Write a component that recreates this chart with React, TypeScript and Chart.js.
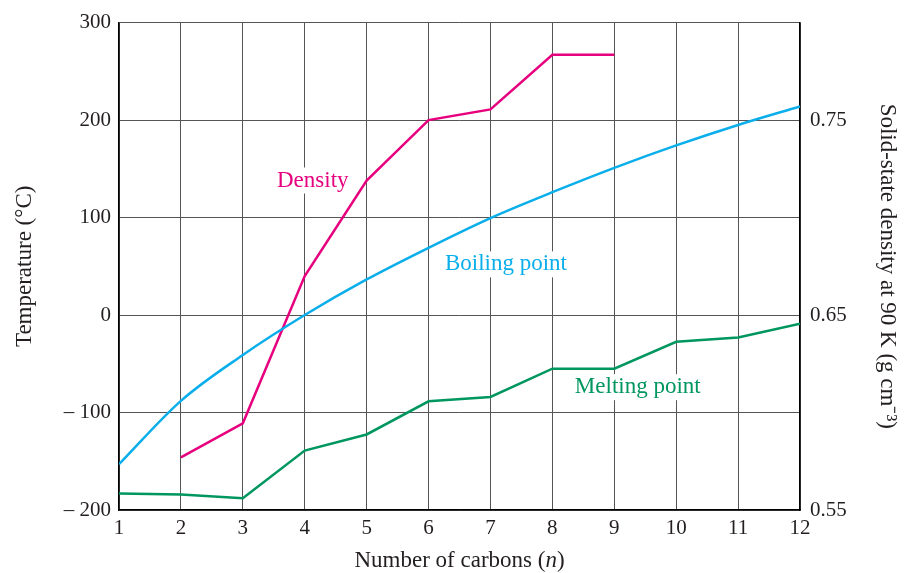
import React, { useEffect, useRef } from "react";
import { Chart, registerables } from "chart.js";

Chart.register(...registerables);

const CARBONS = [1, 2, 3, 4, 5, 6, 7, 8, 9, 10, 11, 12];
const BOILING = [-153, -88, -41, 0, 36.5, 69, 99.5, 126, 151, 174, 195, 214];
const MELTING = [-183, -184, -188, -139, -122.5, -88.5, -84, -55, -55, -27.5, -23, -9];
const DENSITY_N = [2, 3, 4, 5, 6, 7, 8, 9];
const DENSITY = [0.577, 0.5945, 0.67, 0.719, 0.75, 0.7555, 0.7835, 0.7835];
const TEMP_TICKS = [-200, -100, 0, 100, 200, 300];
const DENSITY_TICKS = [0.55, 0.65, 0.75];

const PINK = "#E6007E";
const BLUE = "#0AAEEA";
const GREEN = "#00965F";
const FONT = '"Liberation Serif", "Times New Roman", serif';
const TEXT = "#231F20";

const SERIES_LABELS = [
  { text: "Density", x: 4.13, y: 138, color: PINK },
  { text: "Boiling point", x: 7.25, y: 52, color: BLUE },
  { text: "Melting point", x: 9.38, y: -74, color: GREEN },
];

const labelPlugin = {
  id: "seriesLabels",
  afterDraw(chart: any) {
    const ctx = chart.ctx;
    const xs = chart.scales.x;
    const ys = chart.scales.y;
    ctx.save();
    ctx.font = `23px ${FONT}`;
    ctx.textAlign = "center";
    ctx.textBaseline = "middle";
    for (const l of SERIES_LABELS) {
      const px = xs.getPixelForValue(l.x);
      const py = ys.getPixelForValue(l.y);
      const w = ctx.measureText(l.text).width;
      ctx.fillStyle = "#ffffff";
      ctx.fillRect(px - w / 2 - 3, py - 13, w + 6, 26);
      ctx.fillStyle = l.color;
      ctx.fillText(l.text, px, py);
    }
    // x axis title with italic n
    const ca = chart.chartArea;
    const cx = (ca.left + ca.right) / 2;
    const cy = 561;
    const p1 = "Number of carbons (";
    const p2 = "n";
    const p3 = ")";
    ctx.textAlign = "left";
    ctx.font = `23px ${FONT}`;
    const w1 = ctx.measureText(p1).width;
    const w3 = ctx.measureText(p3).width;
    ctx.font = `italic 23px ${FONT}`;
    const w2 = ctx.measureText(p2).width;
    let sx = cx - (w1 + w2 + w3) / 2;
    ctx.fillStyle = TEXT;
    ctx.font = `23px ${FONT}`;
    ctx.fillText(p1, sx, cy);
    sx += w1;
    ctx.font = `italic 23px ${FONT}`;
    ctx.fillText(p2, sx, cy);
    sx += w2;
    ctx.font = `23px ${FONT}`;
    ctx.fillText(p3, sx, cy);
    ctx.restore();
  },
};

export default function App() {
  const ref = useRef<HTMLCanvasElement | null>(null);
  useEffect(() => {
    document.body.style.margin = "0";
    if (!ref.current) return;
    const chart = new Chart(ref.current, {
      type: "line",
      data: {
        datasets: [
          {
            label: "Boiling point",
            data: CARBONS.map((n, i) => ({ x: n, y: BOILING[i] })),
            borderColor: BLUE,
            borderWidth: 2.5,
            pointRadius: 0,
            cubicInterpolationMode: "monotone",
            yAxisID: "y",
          },
          {
            label: "Melting point",
            data: CARBONS.map((n, i) => ({ x: n, y: MELTING[i] })),
            borderColor: GREEN,
            borderWidth: 2.5,
            pointRadius: 0,
            tension: 0,
            yAxisID: "y",
          },
          {
            label: "Density",
            data: DENSITY_N.map((n, i) => ({ x: n, y: DENSITY[i] })),
            borderColor: PINK,
            borderWidth: 2.5,
            pointRadius: 0,
            tension: 0,
            yAxisID: "y2",
          },
        ],
      },
      options: {
        animation: false,
        responsive: false,
        maintainAspectRatio: false,
        layout: { padding: { top: 21, left: 0, right: 0, bottom: 0 } },
        plugins: { legend: { display: false }, tooltip: { enabled: false } },
        scales: {
          x: {
            type: "linear",
            min: 1,
            max: 12,
            afterBuildTicks: (s: any) => {
              s.ticks = CARBONS.map((v) => ({ value: v }));
            },
            afterFit: (s: any) => {
              s.height = 63;
            },
            grid: { color: "#555", lineWidth: 1, drawTicks: false },
            border: { color: "#000", width: 1.5 },
            ticks: {
              padding: 6,
              color: TEXT,
              font: { family: FONT, size: 21 },
              maxRotation: 0,
            },
          },
          y: {
            type: "linear",
            position: "left",
            min: -200,
            max: 300,
            afterBuildTicks: (s: any) => {
              s.ticks = TEMP_TICKS.map((v) => ({ value: v }));
            },
            afterFit: (s: any) => {
              s.width = 119;
            },
            grid: { color: "#555", lineWidth: 1, drawTicks: false },
            border: { color: "#000", width: 1.5 },
            ticks: {
              padding: 8,
              color: TEXT,
              font: { family: FONT, size: 21 },
              callback: (v: any) => (v < 0 ? "\u2013 " + Math.abs(v) : String(v)),
            },
            title: {
              display: true,
              text: "Temperature (\u00B0C)",
              color: TEXT,
              font: { family: FONT, size: 23 },
              padding: { top: 11, bottom: 0 },
            },
          },
          y2: {
            type: "linear",
            position: "right",
            min: 0.55,
            max: 0.8,
            afterBuildTicks: (s: any) => {
              s.ticks = DENSITY_TICKS.map((v) => ({ value: v }));
            },
            afterFit: (s: any) => {
              s.width = 104;
            },
            grid: { display: false, drawTicks: false },
            border: { display: true, color: "#000", width: 1.5 },
            ticks: {
              padding: 10,
              color: TEXT,
              font: { family: FONT, size: 21 },
              callback: (v: any) => Number(v).toFixed(2),
            },
            title: {
              display: true,
              text: "Solid-state density at 90 K (g cm\u207B\u00B3)",
              color: TEXT,
              font: { family: FONT, size: 23 },
              padding: { top: 3, bottom: 0 },
            },
          },
        },
      },
      plugins: [labelPlugin],
    } as any);
    return () => chart.destroy();
  }, []);
  return (
    <div style={{ width: 904, height: 573 }}>
      <canvas ref={ref} width={904} height={573} />
    </div>
  );
}
